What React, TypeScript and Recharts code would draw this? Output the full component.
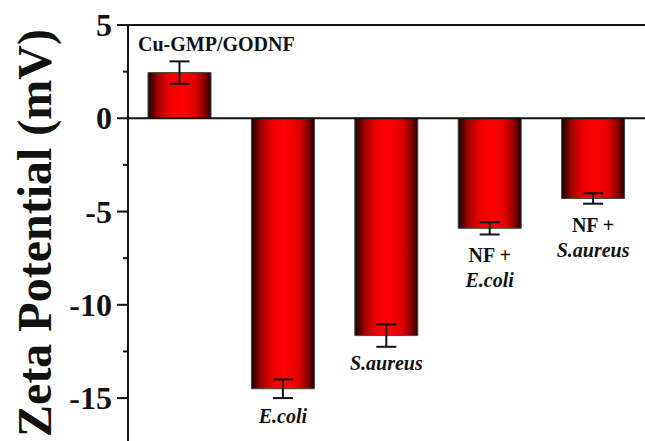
import React from 'react';
import { Bar, BarChart, ErrorBar, LabelList, ReferenceLine, XAxis, YAxis } from 'recharts';

const categories = ['Cu-GMP/GODNF', 'E.coli', 'S.aureus', 'NF + E.coli', 'NF + S.aureus'];
const zetaValues = [2.45, -14.5, -11.65, -5.9, -4.3];
const zetaErrors = [0.6, 0.5, 0.6, 0.33, 0.28];
// each label line: [text, italic]
const labelLines: [string, boolean][][] = [
  [['Cu-GMP/GODNF', false]],
  [['E.coli', true]],
  [['S.aureus', true]],
  [['NF +', false], ['E.coli', true]],
  [['NF +', false], ['S.aureus', true]],
];
const yTicks = [5, 2.5, 0, -2.5, -5, -7.5, -10, -12.5, -15];
const majorTicks = [5, 0, -5, -10, -15];

const data = categories.map((name, i) => ({ name, value: zetaValues[i], err: zetaErrors[i] }));

const FONT = "'Liberation Serif', 'Times New Roman', serif";
const INK = '#111';
const txt = { fontFamily: FONT, fontWeight: 700 } as const;

const YTick = ({ x, y, payload }: any) => {
  const major = majorTicks.includes(payload.value);
  return (
    <g>
      <line x1={x - (major ? 11 : 5)} x2={x} y1={y} y2={y} stroke={INK} strokeWidth={2} />
      {major && (
        <text x={x - 16} y={y} dy={11} textAnchor="end" style={{ ...txt, fontSize: 32 }} fill={INK}>
          {payload.value}
        </text>
      )}
    </g>
  );
};

const BarLabel = ({ x, y, width, height, index }: any) => {
  const top = Math.min(y, y + height);
  const bottom = Math.max(y, y + height);
  const lines = labelLines[index];
  if (zetaValues[index] >= 0) {
    return (
      <text x={x - 10} y={top - 22} textAnchor="start" style={{ ...txt, fontSize: 20 }} fill={INK}>
        {lines[0][0]}
      </text>
    );
  }
  return (
    <g>
      {lines.map(([t, it], k) => (
        <text
          key={k}
          x={x + width / 2}
          y={bottom + 34 + k * 25}
          textAnchor="middle"
          style={{ ...txt, fontSize: 20, fontStyle: it ? 'italic' : 'normal' }}
          fill={INK}
        >
          {t}
        </text>
      ))}
    </g>
  );
};

const AxisTitle = () => (
  <text transform="translate(51, 233) rotate(-90)" textAnchor="middle" style={{ ...txt, fontSize: 48 }} fill={INK}>
    Zeta Potential (mV)
  </text>
);

export default function App() {
  return (
    <div style={{ position: 'absolute', left: 0, top: 0, width: 645, height: 441, background: '#fff' }}>
      <BarChart width={645} height={441} data={data} margin={{ top: 25, right: 0, left: 0, bottom: 0 }} barSize={63}>
        <defs>
          <linearGradient id="redBar" x1="0" y1="0" x2="1" y2="0">
            <stop offset="0%" stopColor="#1a0000" />
            <stop offset="15%" stopColor="#a00000" />
            <stop offset="35%" stopColor="#f20000" />
            <stop offset="55%" stopColor="#ff0000" />
            <stop offset="75%" stopColor="#e00000" />
            <stop offset="90%" stopColor="#800000" />
            <stop offset="100%" stopColor="#180000" />
          </linearGradient>
        </defs>
        <XAxis dataKey="name" hide />
        <YAxis
          width={128}
          domain={[-17.3, 5]}
          allowDataOverflow
          ticks={yTicks}
          interval={0}
          tickSize={0}
          tickMargin={0}
          tick={<YTick />}
          tickLine={false}
          axisLine={{ stroke: INK, strokeWidth: 2 }}
          label={<AxisTitle />}
        />
        <ReferenceLine y={5} stroke={INK} strokeWidth={2} ifOverflow="visible" />
        <ReferenceLine y={0} stroke={INK} strokeWidth={2} />
        <Bar dataKey="value" fill="url(#redBar)" stroke="#444" strokeWidth={1} isAnimationActive={false}>
          <ErrorBar dataKey="err" width={10} stroke={INK} strokeWidth={2} direction="y" />
          <LabelList dataKey="value" content={<BarLabel />} />
        </Bar>
      </BarChart>
    </div>
  );
}
